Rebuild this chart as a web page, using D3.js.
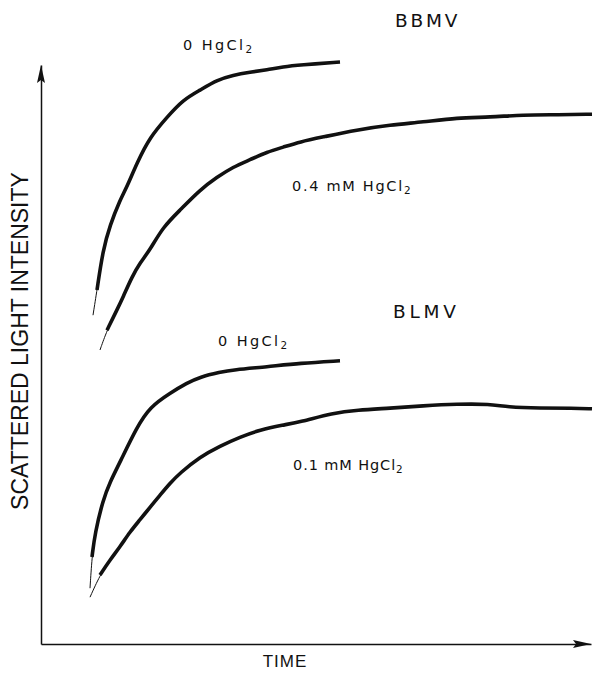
<!DOCTYPE html>
<html>
<head>
<meta charset="utf-8">
<script src="https://cdn.jsdelivr.net/npm/d3@7"></script>
<style>
  body { margin: 0; background: #fff; }
  text { font-family: "Liberation Sans", Arial, Helvetica, sans-serif; fill: #111; }
  text.lbl { font-family: "DejaVu Sans", "Liberation Sans", sans-serif; }
</style>
</head>
<body>
<div id="chart"></div>
<script>
// time (arbitrary units) and scattered light intensity (arbitrary units)
let bbmv0T = [10.4, 11.2, 12.4, 13.8, 15.8, 17.2, 19.2, 21.8, 25.2, 28.4, 31.8, 35.2, 38.4, 41.8, 45.2, 48.4, 51.8, 59.8];
let bbmv0V = [54.8, 59.0, 65.7, 69.8, 74.0, 76.2, 80.2, 84.5, 87.8, 90.7, 92.3, 94.0, 94.8, 95.3, 95.7, 96.2, 96.5, 97.0];

let bbmv04T = [11.8, 13.2, 15.2, 16.4, 18.2, 19.8, 21.8, 24.4, 27.8, 31.8, 35.2, 38.4, 41.8, 45.2, 48.4, 51.8, 56.4, 63.2, 69.8, 76.4, 83.2, 89.8, 96.4, 103.2, 110.2];
let bbmv04V = [49.0, 52.3, 55.7, 57.8, 61.2, 63.5, 65.7, 69.5, 72.3, 75.7, 77.8, 79.5, 80.7, 82.0, 82.8, 83.7, 84.5, 85.7, 86.5, 87.0, 87.7, 87.8, 88.2, 88.2, 88.3];

let blmv0T = [9.8, 10.2, 10.8, 12.4, 13.8, 15.8, 19.2, 21.8, 25.8, 29.2, 31.8, 35.8, 38.4, 45.2, 51.8, 59.8];
let blmv0V = [9.3, 14.5, 18.5, 24.0, 27.0, 30.3, 36.2, 39.5, 41.8, 43.5, 44.5, 45.3, 45.7, 46.2, 46.8, 47.2];

let blmv01T = [9.8, 11.8, 13.8, 15.8, 17.8, 19.8, 21.8, 23.8, 25.8, 27.8, 31.8, 35.8, 39.8, 43.8, 48.4, 51.8, 58.4, 63.2, 69.8, 76.4, 83.2, 89.8, 93.2, 99.8, 106.4, 110.2];
let blmv01V = [7.8, 11.5, 14.0, 16.2, 18.7, 20.7, 22.8, 24.8, 26.8, 28.5, 31.2, 33.0, 34.5, 35.7, 36.5, 37.0, 38.5, 39.0, 39.3, 39.7, 40.0, 40.0, 39.5, 39.3, 39.3, 39.2];

let width = 595, height = 674;

let svg = d3.select("#chart")
    .append("svg")
    .attr("width", width)
    .attr("height", height);

let x = d3.scaleLinear().domain([0, 110]).range([41, 591]);
let y = d3.scaleLinear().domain([0, 96.5]).range([644, 65]);

// axes, no ticks, arrow heads at the ends
svg.append("g")
    .attr("transform", "translate(0," + y(0) + ")")
    .call(d3.axisBottom(x).tickValues([]).tickSizeOuter(0))
    .select(".domain").attr("stroke", "#111").attr("stroke-width", 1.5);
svg.append("g")
    .attr("transform", "translate(" + x(0) + ",0)")
    .call(d3.axisLeft(y).tickValues([]).tickSizeOuter(0))
    .select(".domain").attr("stroke", "#111").attr("stroke-width", 1.5);

let ax = x(0), ay = y(96.5);
svg.append("path")
    .attr("d", "M" + ax + "," + ay + "L" + (ax - 4) + "," + (ay + 18) + "L" + ax + "," + (ay + 15) + "L" + (ax + 4) + "," + (ay + 18) + "Z")
    .attr("fill", "#111");
let bx = x(110), by = y(0);
svg.append("path")
    .attr("d", "M" + bx + "," + by + "L" + (bx - 18) + "," + (by - 4) + "L" + (bx - 15) + "," + by + "L" + (bx - 18) + "," + (by + 4) + "Z")
    .attr("fill", "#111");

let line = d3.line()
    .x(function (d) { return x(d.t) })
    .y(function (d) { return y(d.v) })
    .curve(d3.curveBasis);

function drawTrace(ts, vs) {
    let pts = ts.map(function (t, i) { return { t: t, v: vs[i] } });
    // thin fitted curve
    svg.append("path").datum(pts)
        .attr("fill", "none").attr("stroke", "#111").attr("stroke-width", 1)
        .attr("d", line);
    // recorded trace, drawn heavy from the second point on
    svg.append("path").datum(pts.slice(1))
        .attr("fill", "none").attr("stroke", "#111").attr("stroke-width", 3.6)
        .attr("stroke-linejoin", "round")
        .attr("d", line);
}

drawTrace(bbmv0T, bbmv0V);
drawTrace(bbmv04T, bbmv04V);
drawTrace(blmv0T, blmv0V);
drawTrace(blmv01T, blmv01V);

function label(px, py, main, sub, size, spacing) {
    let t = svg.append("text")
        .attr("class", "lbl")
        .attr("x", px).attr("y", py)
        .attr("font-size", size)
        .attr("letter-spacing", spacing);
    t.append("tspan").text(main);
    if (sub) {
        t.append("tspan").attr("dy", 3).attr("font-size", size * 0.72).text(sub);
    }
}

label(395, 27, "BBMV", null, 18.5, 2.8);
label(393, 318, "BLMV", null, 18.5, 3.8);
label(183, 50, "0 HgCl", "2", 14.5, 2.4);
label(292, 191, "0.4 mM HgCl", "2", 14.5, 1.7);
label(218, 346, "0 HgCl", "2", 14.5, 2.4);
label(293, 470, "0.1 mM HgCl", "2", 14.5, 0.9);

svg.append("text")
    .attr("x", 285).attr("y", 667)
    .attr("text-anchor", "middle")
    .attr("font-size", 17)
    .attr("letter-spacing", 1)
    .text("TIME");

svg.append("text")
    .attr("transform", "translate(28,341) rotate(-90)")
    .attr("text-anchor", "middle")
    .attr("font-size", 23)
    .text("SCATTERED LIGHT INTENSITY");
</script>
</body>
</html>
